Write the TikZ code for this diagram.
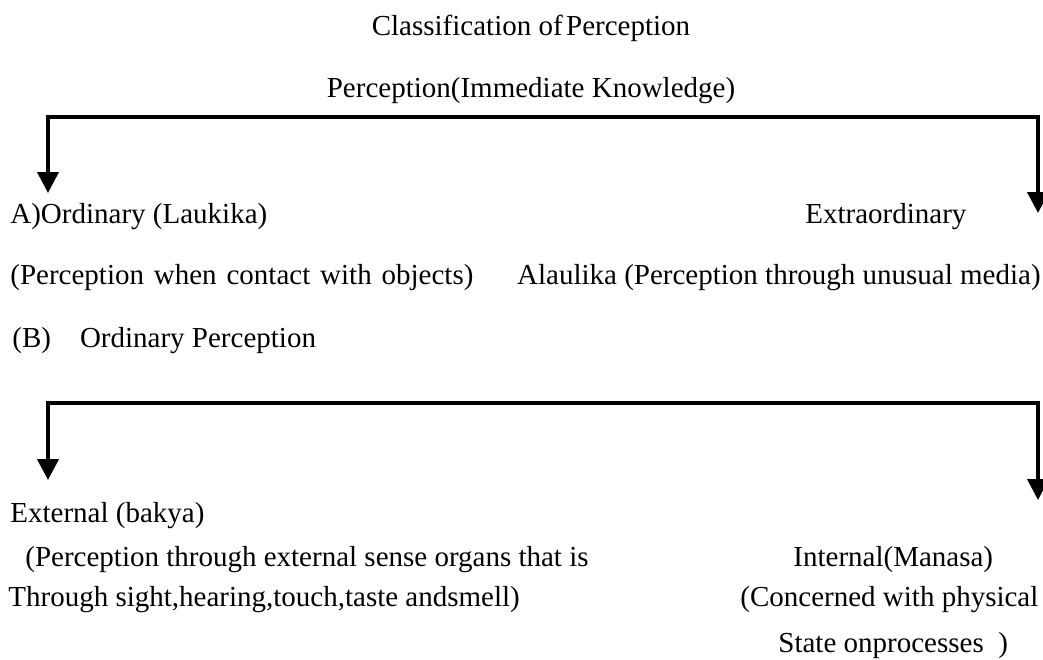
\documentclass[tikz,border=0pt]{standalone}
\usepackage{fontspec}
\setmainfont{Liberation Serif}
\usetikzlibrary{arrows.meta, positioning}

\begin{document}
\begin{tikzpicture}[x=0.5pt, y=-0.5pt, every node/.style={inner sep=0pt, font=\fontsize{14.5}{17}\selectfont}, lbl/.style={anchor=base west}, branch/.style={line width=2pt, line join=miter, <->, >={Triangle[width=10.5pt,length=10.5pt]}}]
	\useasboundingbox (0,0) rectangle (1043,659);
	\node[anchor=base] (title) at (531,35) {Classification of\hspace{0.12em}Perception};
	\node[anchor=base] (perc) at (531,97) {Perception(Immediate Knowledge)};
	\node[lbl] (ordA) at (10,223) {A)Ordinary (Laukika)};
	\node[lbl] (extra) at (805,223) {Extraordinary};
	\node[lbl] (contact) at (10,284) {\spaceskip=0.34em (Perception when contact with objects)};
	\node[anchor=base east] (alau) at (1041,284) {Alaulika (Perception through unusual media)};
	\node[lbl] (ordB) at (12,347) {(B)\quad Ordinary Perception};
	\node[lbl] (ext) at (10,522) {External (bakya)};
	\node[lbl] (sense) at (25,566) {(Perception through external sense organs that is};
	\node[lbl] (sight) at (8,606) {Through sight,hearing,touch,taste andsmell)};
	\node[lbl] (intern) at (793,566) {Internal(Manasa)};
	\node[lbl] (concern) at (740,606) {(Concerned with physical};
	\node[lbl] (state) at (778,652) {State onprocesses \ )};
	\coordinate (barA) at (48,117);
	\coordinate (tipA) at (48,193);
	\coordinate (tipE) at (1038,213);
	\coordinate (barB) at (48,403);
	\coordinate (tipB) at (48,480);
	\coordinate (tipI) at (1038,500);
	\draw[branch] (tipA) -- (barA) -| (tipE);
	\draw[branch] (tipB) -- (barB) -| (tipI);
\end{tikzpicture}
\end{document}
